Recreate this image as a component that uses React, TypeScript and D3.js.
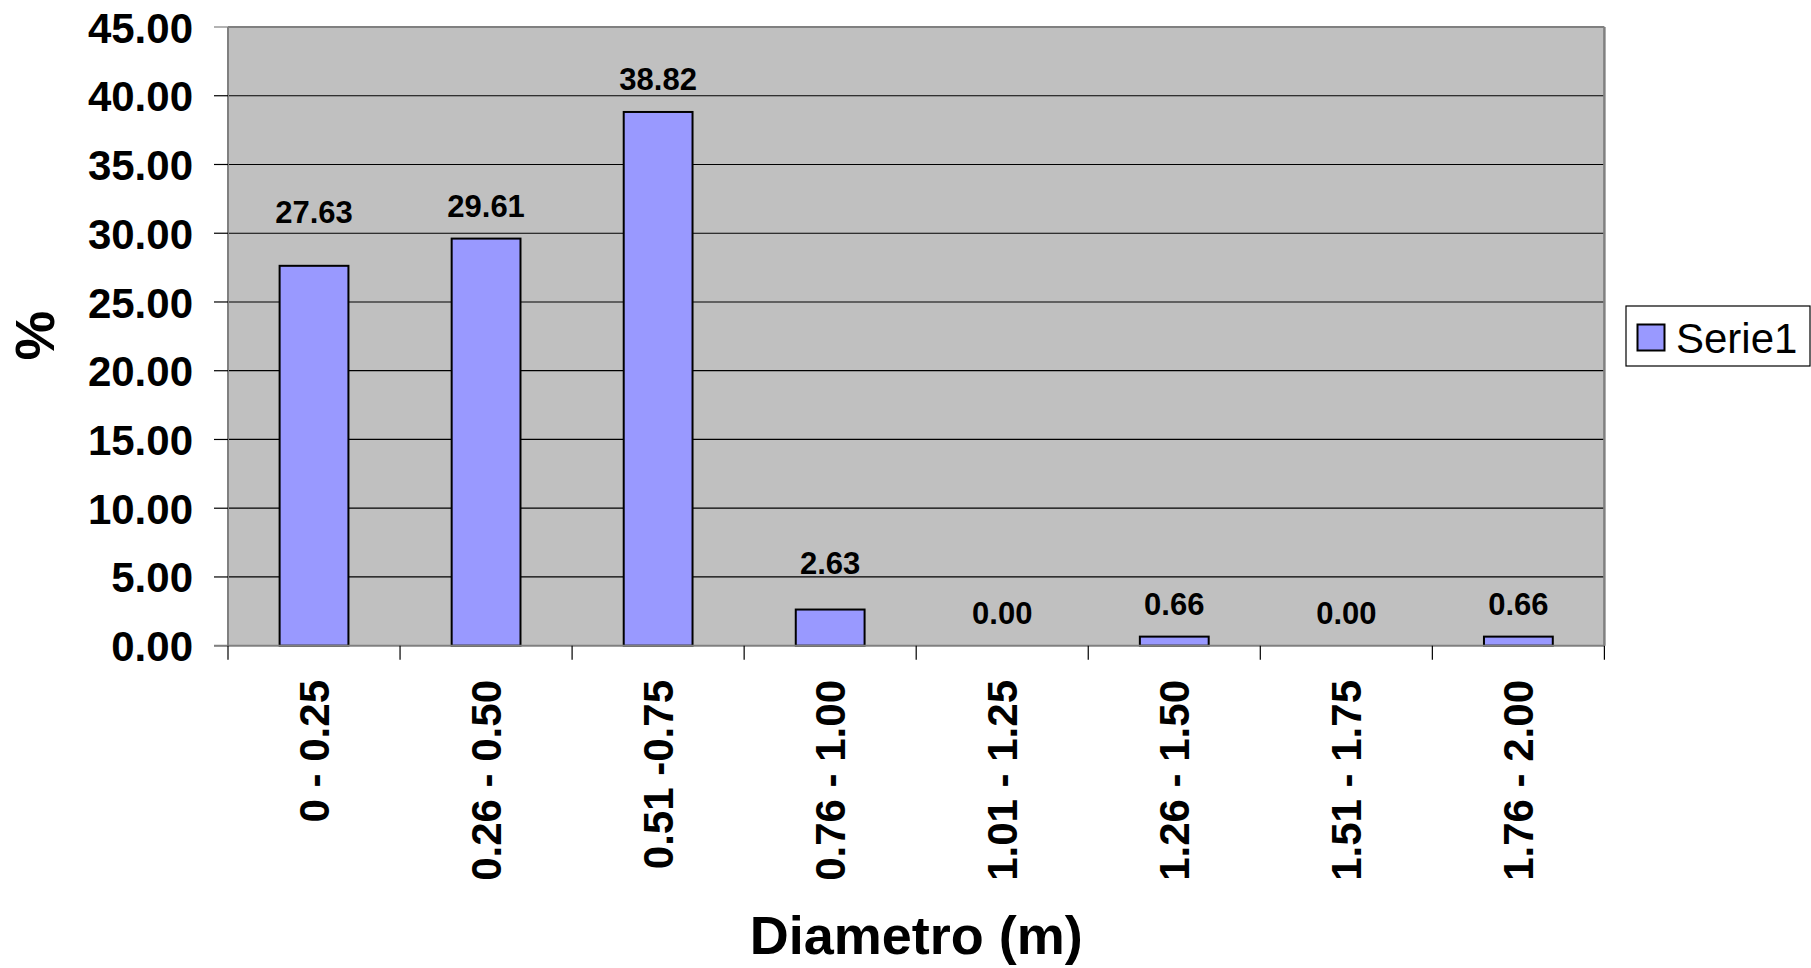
import React, { useEffect } from "react";
import * as d3 from "d3";

const categories = [
  "0 - 0.25",
  "0.26 - 0.50",
  "0.51 -0.75",
  "0.76 - 1.00",
  "1.01 - 1.25",
  "1.26 - 1.50",
  "1.51 - 1.75",
  "1.76 - 2.00",
];
const values = [27.63, 29.61, 38.82, 2.63, 0.0, 0.66, 0.0, 0.66];
const yTicks = [0, 5, 10, 15, 20, 25, 30, 35, 40, 45];
const seriesName = "Serie1";
// extra upward lift (px) of manually moved data labels
const labelLift = [21, 0, 0, 14, 0, 0, 0, 0];

const W = 1811;
const H = 968;
const left = 228;
const right = 1604.4;
const top = 27;
const bottom = 645.7;
const FONT = "'Liberation Sans', Arial, Helvetica, sans-serif";
const BAR = "#9999FF";
const PLOT_BG = "#C0C0C0";
const AXIS = "#808080";

export default function App() {
  useEffect(() => {
    document.body.style.margin = "0";
    document.body.style.overflow = "hidden";
  }, []);

  const x = d3
    .scaleBand<string>()
    .domain(categories)
    .range([left, right])
    .paddingInner(0.6)
    .paddingOuter(0.3);
  const y = d3.scaleLinear().domain([0, 45]).range([bottom, top]);
  const step = x.step();
  const boundaries = d3.range(categories.length + 1).map((i) => left + i * step);

  return (
    <svg
      width={W}
      height={H}
      style={{ position: "absolute", left: 0, top: 0, background: "#fff" }}
      fontFamily={FONT}
    >
      <rect x={left} y={top} width={right - left} height={bottom - top} fill={PLOT_BG} />
      {/* gridlines */}
      {yTicks
        .filter((t) => t > 0 && t < 45)
        .map((t) => (
          <line key={"g" + t} x1={left} x2={right} y1={y(t)} y2={y(t)} stroke="#000" strokeWidth={1.2} />
        ))}
      {/* plot border top/right */}
      <line x1={left} x2={right} y1={top} y2={top} stroke={AXIS} strokeWidth={2} />
      <line x1={right} x2={right} y1={top} y2={bottom} stroke={AXIS} strokeWidth={2.5} />
      {/* bars */}
      {categories.map((c, i) => (
        <rect
          key={"b" + c}
          x={x(c)}
          y={y(values[i])}
          width={x.bandwidth()}
          height={bottom - y(values[i])}
          fill={BAR}
          stroke="#000"
          strokeWidth={values[i] > 0 ? 2 : 0}
        />
      ))}
      {/* data labels */}
      {categories.map((c, i) => (
        <text
          key={"l" + c}
          x={(x(c) as number) + x.bandwidth() / 2}
          y={y(values[i]) - 22 - labelLift[i]}
          textAnchor="middle"
          fontSize={31}
          fontWeight="bold"
          fill="#000"
        >
          {values[i].toFixed(2)}
        </text>
      ))}
      {/* axes */}
      <line x1={left} x2={left} y1={top} y2={bottom} stroke={AXIS} strokeWidth={2} />
      <line x1={left - 14} x2={right} y1={bottom} y2={bottom} stroke={AXIS} strokeWidth={2} />
      {yTicks.map((t) => (
        <g key={"yt" + t}>
          <line x1={left - 14} x2={left} y1={y(t)} y2={y(t)} stroke={t === 0 || t === 45 ? AXIS : "#000"} strokeWidth={1.2} />
          <text x={193} y={y(t)} dy="0.37em" textAnchor="end" fontSize={42} fontWeight="bold" fill="#000">
            {t.toFixed(2)}
          </text>
        </g>
      ))}
      {boundaries.map((bx, i) => (
        <line key={"xt" + i} x1={bx} x2={bx} y1={bottom} y2={bottom + 14} stroke="#000" strokeWidth={1.2} />
      ))}
      {categories.map((c) => {
        const cx = (x(c) as number) + x.bandwidth() / 2;
        return (
          <text
            key={"xl" + c}
            transform={`translate(${cx + 15},680) rotate(-90)`}
            textAnchor="end"
            fontSize={42}
            fontWeight="bold"
            fill="#000"
          >
            {c}
          </text>
        );
      })}
      {/* axis titles */}
      <text x={(left + right) / 2} y={954} textAnchor="middle" fontSize={54} fontWeight="bold" fill="#000">
        Diametro (m)
      </text>
      <text
        transform={`translate(54,335.5) rotate(-90)`}
        textAnchor="middle"
        fontSize={56}
        fontWeight="bold"
        fill="#000"
      >
        %
      </text>
      {/* legend */}
      <rect x={1626} y={306} width={184} height={60} fill="#fff" stroke="#000" strokeWidth={1.2} />
      <rect x={1637.5} y={324.5} width={27} height={26} fill={BAR} stroke="#000" strokeWidth={2} />
      <text x={1676} y={352.7} fontSize={42} fill="#000">
        {seriesName}
      </text>
    </svg>
  );
}
